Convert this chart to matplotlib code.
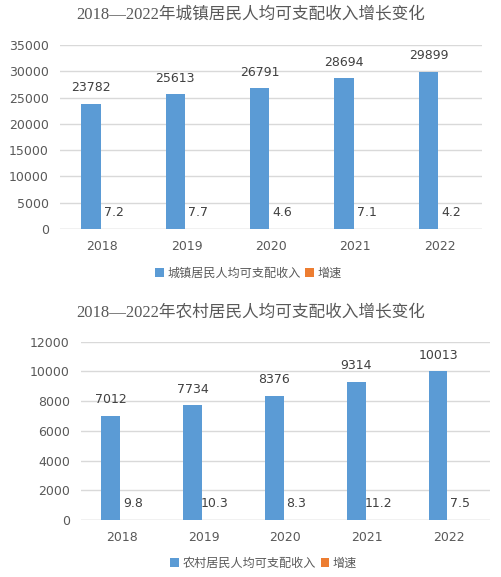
import matplotlib
matplotlib.use('Agg')
import matplotlib.pyplot as plt
import numpy as np

plt.rcParams['font.family'] = ['DejaVu Sans']

years = ['2018', '2019', '2020', '2021', '2022']

urban_income = [23782, 25613, 26791, 28694, 29899]
urban_growth = [7.2, 7.7, 4.6, 7.1, 4.2]

rural_income = [7012, 7734, 8376, 9314, 10013]
rural_growth = [9.8, 10.3, 8.3, 11.2, 7.5]

BLUE = '#5b9bd5'
ORANGE = '#ed7d31'
CJK = ['Noto Sans CJK SC', 'DejaVu Sans']
TITLE_FONT = ['Liberation Serif', 'Noto Sans CJK SC']


def draw_chart(fig, rect, title, title_y, income, growth, ymax, ystep,
               income_name, legend_pos):
    ax = fig.add_axes(rect)
    x = np.arange(len(years))
    w = 0.23
    off = 0.135
    b1 = ax.bar(x - off, income, w, color=BLUE, label=income_name, zorder=3)
    b2 = ax.bar(x + off, growth, w, color=ORANGE, label='增速', zorder=3)

    for bars, vals in ((b1, income), (b2, growth)):
        for rect_, v in zip(bars, vals):
            ax.annotate(f'{v:g}', (rect_.get_x() + rect_.get_width() / 2, rect_.get_height()),
                        xytext=(0, 16), textcoords='offset pixels',
                        ha='center', va='center', fontsize=9, color='#404040')

    ax.set_xlim(-0.5, len(years) - 0.5)
    ax.set_ylim(0, ymax)
    ax.set_yticks(np.arange(0, ymax + 1, ystep))
    ax.set_xticks(x)
    ax.set_xticklabels(years)
    ax.tick_params(length=0, labelsize=9, colors='#595959')
    ax.tick_params(axis='x', pad=8)
    ax.tick_params(axis='y', pad=8)
    ax.grid(axis='y', color='#d9d9d9', linewidth=1, zorder=0)
    for s in ax.spines.values():
        s.set_visible(False)
    ax.axhline(0, color='#d9d9d9', linewidth=1, zorder=2)

    fig.text(0.5, title_y, title, ha='center', va='center', fontsize=12,
             color='#595959', family=TITLE_FONT)

    fig.legend(handles=[b1, b2], loc='center', bbox_to_anchor=legend_pos,
               ncol=2, frameon=False, prop={'family': CJK, 'size': 8.7},
               handlelength=0.7, handleheight=0.7, handletextpad=0.3,
               columnspacing=0.4, labelcolor='#595959')
    return ax


fig = plt.figure(figsize=(5.01, 5.77), dpi=100)

draw_chart(fig, [60 / 501, 1 - 229 / 577, 422 / 501, 184 / 577],
           '2018—2022年城镇居民人均可支配收入增长变化', 1 - 15 / 577,
           urban_income, urban_growth, 35000, 5000,
           '城镇居民人均可支配收入', (0.496, 1 - 273 / 577))

draw_chart(fig, [81 / 501, 1 - 520 / 577, 409 / 501, 178.3 / 577],
           '2018—2022年农村居民人均可支配收入增长变化', 1 - 313 / 577,
           rural_income, rural_growth, 12000, 2000,
           '农村居民人均可支配收入', (0.526, 1 - 563 / 577))

fig.savefig('out.png', dpi=100)
